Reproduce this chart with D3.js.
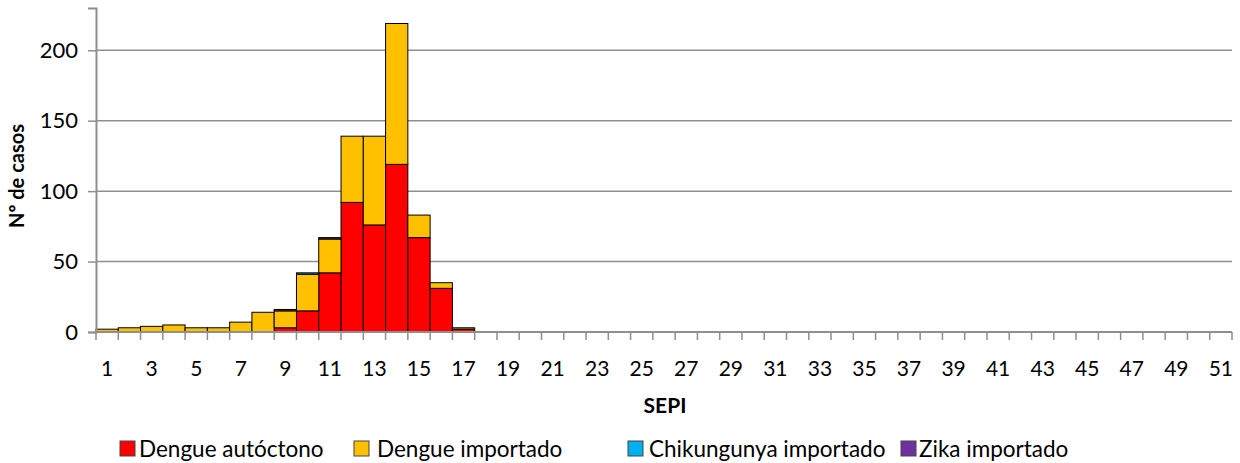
<!DOCTYPE html>
<html>
<head>
<meta charset="utf-8">
<script src="https://cdn.jsdelivr.net/npm/d3@7"></script>
<style>
  body { margin: 0; background: #fff; }
  svg { font-family: Lato, "Open Sans", sans-serif; }
</style>
</head>
<body>
<script>
// data: semanas epidemiologicas 1..51
var semanas = d3.range(1, 52);
var dengueAutoctono  = [0,0,0,0,0,0,0,0,3,15,42,92,76,119,67,31,2];
var dengueImportado  = [2,3,4,5,3,3,7,14,12,26,24,47,63,100,16,4,1];
var chikImportado    = [0,0,0,0,0,0,0,0,0,1,0,0,0,0,0,0,0];
var zikaImportado    = [0,0,0,0,0,0,0,0,1,0,1,0,0,0,0,0,0];
var yTicks = [0, 50, 100, 150, 200];

var series = [
  { name: "Dengue autóctono", values: dengueAutoctono, color: "#FF0000" },
  { name: "Dengue importado", values: dengueImportado, color: "#FFC000" },
  { name: "Chikungunya importado", values: chikImportado, color: "#00B0F0" },
  { name: "Zika importado", values: zikaImportado, color: "#7030A0" }
];

var rows = semanas.map(function(s, i) {
  var r = { sepi: s };
  series.forEach(function(se) { r[se.name] = se.values[i] || 0; });
  return r;
});

var W = 1240, H = 463;
var m = { left: 96, right: 8, top: 8, bottom: 131 };

var svg = d3.select("body").append("svg")
  .attr("width", W)
  .attr("height", H);

var x = d3.scaleBand()
  .domain(semanas)
  .range([m.left, W - m.right])
  .padding(0);

var y = d3.scaleLinear()
  .domain([0, 230])
  .range([H - m.bottom, m.top]);

// gridlines
svg.append("g")
  .selectAll("line")
  .data(yTicks.filter(function(d) { return d > 0; }))
  .enter()
  .append("line")
  .attr("x1", m.left)
  .attr("x2", W - m.right)
  .attr("y1", function(d) { return y(d); })
  .attr("y2", function(d) { return y(d); })
  .attr("stroke", "#8f8f8f")
  .attr("stroke-width", 1.5);

// stacked bars
var stack = d3.stack().keys(series.map(function(s) { return s.name; }));
var layers = stack(rows);

svg.append("g")
  .selectAll("g")
  .data(layers)
  .enter()
  .append("g")
  .attr("fill", function(d, i) { return series[i].color; })
  .selectAll("rect")
  .data(function(d) { return d.filter(function(p) { return p[1] - p[0] > 0; }); })
  .enter()
  .append("rect")
  .attr("x", function(d) { return x(d.data.sepi); })
  .attr("width", x.bandwidth())
  .attr("y", function(d) { return y(d[1]); })
  .attr("height", function(d) { return y(d[0]) - y(d[1]); })
  .attr("stroke", "#000")
  .attr("stroke-width", 1);

// y axis
var yAxis = svg.append("g")
  .attr("transform", "translate(" + m.left + ",0)")
  .call(d3.axisLeft(y).tickValues(yTicks).tickSize(8).tickPadding(10));
yAxis.select(".domain").attr("stroke", "#8f8f8f").attr("stroke-width", 2);
yAxis.selectAll(".tick line").attr("stroke", "#8f8f8f").attr("stroke-width", 1.5);
yAxis.selectAll(".tick text")
  .attr("font-size", "22px")
  .attr("font-family", "Lato, sans-serif")
  .attr("fill", "#000");

// x axis: line, boundary ticks, odd labels
var xg = svg.append("g");
xg.append("line")
  .attr("x1", m.left).attr("x2", W - m.right)
  .attr("y1", y(0)).attr("y2", y(0))
  .attr("stroke", "#8f8f8f").attr("stroke-width", 2);
xg.selectAll("line.tk")
  .data(semanas.concat([null]))
  .enter()
  .append("line")
  .attr("class", "tk")
  .attr("x1", function(d, i) { return m.left + i * x.bandwidth(); })
  .attr("x2", function(d, i) { return m.left + i * x.bandwidth(); })
  .attr("y1", y(0))
  .attr("y2", y(0) + 8)
  .attr("stroke", "#8f8f8f")
  .attr("stroke-width", 1.5);
xg.selectAll("text")
  .data(semanas.filter(function(d) { return d % 2 === 1; }))
  .enter()
  .append("text")
  .attr("x", function(d) { return x(d) + x.bandwidth() / 2; })
  .attr("y", y(0) + 44)
  .attr("text-anchor", "middle")
  .attr("font-size", "21px")
  .text(function(d) { return d; });

// axis titles
svg.append("text")
  .attr("x", 665)
  .attr("y", 413)
  .attr("text-anchor", "middle")
  .attr("font-size", "21px")
  .attr("font-weight", "bold")
  .text("SEPI");

svg.append("text")
  .attr("transform", "translate(24,176) rotate(-90)")
  .attr("text-anchor", "middle")
  .attr("font-size", "20px")
  .attr("font-weight", "bold")
  .text("Nº de casos");

// legend
var legBoxX = [120, 354, 628, 901];
var legTextX = [139, 377, 649, 919];
var leg = svg.append("g")
  .selectAll("g")
  .data(series)
  .enter()
  .append("g");
leg.append("rect")
  .attr("x", function(d, i) { return legBoxX[i]; })
  .attr("y", 441)
  .attr("width", 15)
  .attr("height", 15)
  .attr("fill", function(d) { return d.color; })
  .attr("stroke", "#444")
  .attr("stroke-width", 1);
leg.append("text")
  .attr("x", function(d, i) { return legTextX[i]; })
  .attr("y", 457)
  .attr("font-size", "22.5px")
  .text(function(d) { return d.name; });
</script>
</body>
</html>
